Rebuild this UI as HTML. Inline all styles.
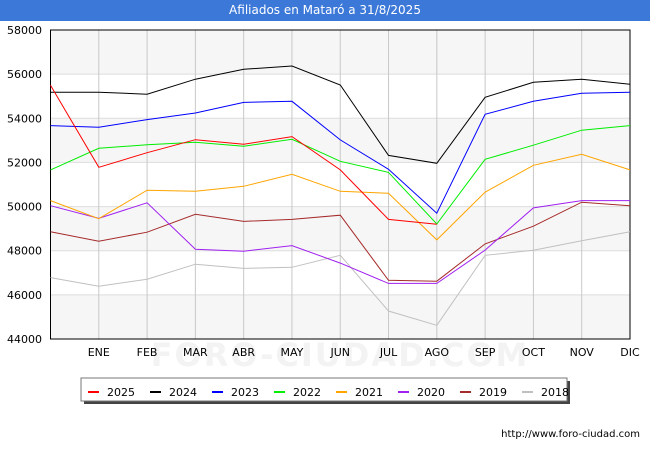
<!DOCTYPE html>
<html><head><meta charset="utf-8"><style>
body{margin:0;width:650px;height:450px;background:#fff;font-family:"DejaVu Sans","Liberation Sans",sans-serif;overflow:hidden;position:relative}
#title{position:absolute;left:0;top:0;width:650px;height:21px;background:#3b78d8;color:#fff;font-size:12px;text-align:center;line-height:21px}
</style></head><body>
<div id="title">Afiliados en Mataró a 31/8/2025</div>
<svg id="chart" width="650" height="450" style="position:absolute;left:0;top:0"></svg>
<script>
const categories=["","ENE","FEB","MAR","ABR","MAY","JUN","JUL","AGO","SEP","OCT","NOV","DIC"];
const yTicks=[44000,46000,48000,50000,52000,54000,56000,58000];
const seriesNames=["2025","2024","2023","2022","2021","2020","2019","2018"];
const seriesColors=["#ff0000","#000000","#0000ff","#00ee00","#ffa500","#a020f0","#a52a2a","#c0c0c0"];
const s2025=[55500,51780,52440,53030,52820,53170,51660,49420,49200];
const s2024=[55180,55180,55090,55770,56220,56370,55510,52320,51960,54950,55630,55770,55540];
const s2023=[53670,53590,53940,54240,54720,54770,53020,51690,49700,54180,54770,55130,55180];
const s2022=[51660,52640,52800,52910,52730,53050,52050,51550,49210,52140,52780,53460,53670];
const s2021=[50270,49450,50740,50690,50920,51460,50690,50600,48490,50650,51870,52370,51660];
const s2020=[50040,49470,50170,48070,47980,48230,47440,46520,46520,48030,49940,50270,50270];
const s2019=[48860,48430,48840,49650,49330,49420,49610,46660,46620,48310,49110,50200,50040];
const s2018=[46780,46390,46710,47390,47200,47250,47790,45270,44620,47790,48020,48450,48860];
const allSeries=[s2025,s2024,s2023,s2022,s2021,s2020,s2019,s2018];
const L=50.5,R=630,T=30,B=339,vmin=44000,vmax=58000;
const xs=i=>L+i*(R-L)/(categories.length-1);
const ys=v=>T+(vmax-v)/(vmax-vmin)*(B-T);
const NS="http://www.w3.org/2000/svg",svg=document.getElementById('chart');
function mk(t,a,p){const e=document.createElementNS(NS,t);for(const k in a)e.setAttribute(k,a[k]);(p||svg).appendChild(e);return e;}
const wm=mk('text',{x:340,y:366,'text-anchor':'middle','font-size':32,fill:'#f3f3f3','font-weight':'bold','letter-spacing':'2'});
wm.textContent='FORO-CIUDAD.COM';


for(let i=0;i<yTicks.length-1;i++){
 const b=mk('rect',{x:L,y:ys(yTicks[i+1]),width:R-L,height:ys(yTicks[i])-ys(yTicks[i+1]),fill:(i%2==0)?'#f6f6f6':'#ffffff'});
 
 
}
yTicks.forEach(v=>{
 const g=mk('line',{x1:L,x2:R,y1:ys(v),y2:ys(v),stroke:'#dddddd','stroke-width':1});
 
 
 const t=mk('text',{x:42,y:ys(v)+4,'text-anchor':'end','font-size':11,fill:'#000'});
 t.textContent=v;
 
 
});
categories.forEach((c,i)=>{
 if(i>0){const g=mk('line',{x1:xs(i),x2:xs(i),y1:T,y2:B,stroke:'#c8c8c8','stroke-width':1});
 
 }
 if(c){const t=mk('text',{x:xs(i),y:356,'text-anchor':'middle','font-size':11,fill:'#000'});
 t.textContent=c;
 
 }
});
const fr=mk('rect',{x:L,y:T,width:R-L,height:B-T,fill:'none',stroke:'#000','stroke-width':1});


for(let k=allSeries.length-1;k>=0;k--){
 const d=allSeries[k].map((v,i)=>xs(i).toFixed(1)+','+ys(v).toFixed(1)).join(' ');
 const p=mk('polyline',{points:d,fill:'none',stroke:seriesColors[k],'stroke-width':1});
 
 
}
const lg=mk('g',{});


mk('rect',{x:84,y:381,width:486,height:23,fill:'#444'},lg);
mk('rect',{x:81,y:378,width:486,height:23,fill:'#fff',stroke:'#777','stroke-width':1},lg);
seriesNames.forEach((n,k)=>{
 const x0=88+k*62;
 const e=mk('g',{},lg);
 
 
 mk('line',{x1:x0,x2:x0+11,y1:392,y2:392,stroke:seriesColors[k],'stroke-width':2},e);
 const t=mk('text',{x:x0+19,y:396,'font-size':11,fill:'#000'},e);
 t.textContent=n;
});
const u=mk('text',{x:640,y:437,'text-anchor':'end','font-size':10,fill:'#000'});
u.textContent='http://www.foro-ciudad.com';


</script>
</body></html>
